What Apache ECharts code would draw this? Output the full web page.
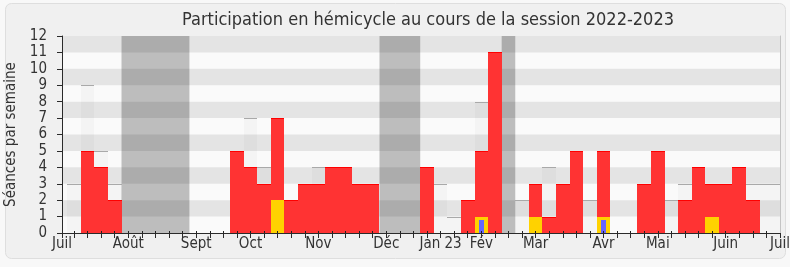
<!DOCTYPE html>
<html>
<head>
<meta charset="utf-8">
<script src="https://cdn.jsdelivr.net/npm/echarts@6/dist/echarts.min.js"></script>
<style>
  html, body { margin: 0; padding: 0; background: #f8f8f8; }
  #chart { width: 790px; height: 267px; }
</style>
</head>
<body>
<div id="chart"></div>
<script>
// Weekly attendance in the chamber, session 2022-2023 (week 0 = first week of July)
const monthLabels = ['Juil', 'Août', 'Sept', 'Oct', 'Nov', 'Déc', 'Jan 23', 'Fév', 'Mar', 'Avr', 'Mai', 'Juin', 'Juil'];
const monthWeeks  = [-0.884, 4, 9, 13, 18, 23, 27, 30, 34, 39, 43, 48, 52];
const yTicks = [0, 1, 2, 3, 4, 5, 6, 7, 8, 9, 10, 11, 12];

// sittings attended per week (red)
const presences = [
  0, 5, 4, 2, null, null, null, null, null, 0, 0, 0, 5, 4, 3, 7, 2, 3, 3, 4, 4, 3, 3,
  null, null, null, 4, 0, 0, 2, 5, 11, null, 0, 3, 1, 3, 5, 0, 5, 0, 0, 3, 5, 0, 2, 4, 3, 3, 4, 2, 0, 0
];
// sittings with a long speech (yellow)
const interventions = [
  0, 0, 0, 0, null, null, null, null, null, 0, 0, 0, 0, 0, 0, 2, 0, 0, 0, 0, 0, 0, 0,
  null, null, null, 0, 0, 0, 0, 1, 0, null, 0, 1, 0, 0, 0, 0, 1, 0, 0, 0, 0, 0, 0, 0, 1, 0, 0, 0, 0, 0
];
// oral questions (blue)
const questions = [
  0, 0, 0, 0, null, null, null, null, null, 0, 0, 0, 0, 0, 0, 0, 0, 0, 0, 0, 0, 0, 0,
  null, null, null, 0, 0, 0, 0, 0.8, 0, null, 0, 0, 0, 0, 0, 0, 0.8, 0, 0, 0, 0, 0, 0, 0, 0, 0, 0, 0, 0, 0
];
// median of all members (grey box with top line)
const medianes = [
  3, 9, 5, 3, null, null, null, null, null, 0, 0, 0, 4, 7, 4, 4, 2, 3, 4, 3, 3, 3, 3,
  null, null, null, 2, 3, 1, 2, 8, 4, null, 2, 2, 4, 2, 2, 2, 2, 0, 0, 2, 3, 2, 3, 3, 3, 3, 3, 3, 3, 3
];
// parliamentary recess, as [first week, last week]
const vacances = [[4, 8], [23, 25], [32, 32]];
// darker horizontal bands of the background
const bandes = [[1, 2], [3, 4], [5, 6], [7, 8], [9, 10], [11, 12]];

const FONT = "'DejaVu Sans Condensed', 'DejaVu Sans', sans-serif";
const weekTicks = [-0.884];
for (let i = 0; i <= 52; i++) weekTicks.push(i);

function toPairs(arr) {
  return arr.map((v, i) => [i, v == null ? 0 : v]);
}

function clipTo(params, r) {
  const cs = params.coordSys;
  return echarts.graphic.clipRectByRect(r, { x: cs.x, y: cs.y, width: cs.width, height: cs.height });
}

// one rectangle per week, from 0 up to the value, snapped to whole pixels
function weekBar(widthFrac, fill, topColor) {
  return function (params, api) {
    const k = api.value(0), v = api.value(1);
    if (!(v > 0)) return;
    const a = api.coord([k - widthFrac / 2, v]);
    const b = api.coord([k + widthFrac / 2, 0]);
    const x0 = Math.round(a[0]), x1 = Math.round(b[0]);
    const y0 = Math.round(a[1]), y1 = Math.round(b[1]);
    const shape = clipTo(params, { x: x0, y: y0, width: x1 - x0, height: y1 - y0 });
    if (!shape) return;
    const children = [{ type: 'rect', shape: shape, style: { fill: fill } }];
    if (topColor) {
      children.push({
        type: 'line',
        shape: { x1: shape.x, y1: shape.y + 0.5, x2: shape.x + shape.width, y2: shape.y + 0.5 },
        style: { stroke: topColor, lineWidth: 1 }
      });
    }
    return { type: 'group', children: children };
  };
}

const chart = echarts.init(document.getElementById('chart'), null, { renderer: 'canvas' });

chart.setOption({
  backgroundColor: '#f8f8f8',
  animation: false,
  textStyle: { fontFamily: FONT },
  title: {
    text: 'Participation en hémicycle au cours de la session 2022-2023',
    left: 423,
    textAlign: 'center',
    top: 6,
    textStyle: { fontFamily: FONT, fontSize: 18, fontWeight: 'normal', color: '#333' }
  },
  graphic: [{
    type: 'rect',
    z: -10,
    silent: true,
    shape: { x: 5.5, y: 3.5, width: 780, height: 255, r: 6 },
    style: { fill: '#f0f0f0', stroke: '#dedede', lineWidth: 1 }
  }],
  grid: { left: 62, right: 10, top: 36, bottom: 34, containLabel: false, outerBoundsMode: 'none' },
  xAxis: [{
    type: 'value',
    position: 'bottom',
    z: 20,
    min: -0.884,
    max: 52,
    splitLine: { show: false },
    axisLine: { show: true, onZero: false, lineStyle: { color: '#2a2a2a', width: 1 } },
    axisTick: { show: true, length: 5, customValues: weekTicks, lineStyle: { color: '#2a2a2a' } },
    axisLabel: {
      customValues: monthWeeks,
      formatter: v => {
        const i = monthWeeks.findIndex(m => Math.abs(m - v) < 1e-6);
        return i >= 0 ? monthLabels[i] : '';
      },
      margin: 4,
      fontSize: 15,
      color: '#333',
      fontFamily: FONT
    }
  }, {
    type: 'value',
    position: 'top',
    z: 20,
    min: -0.884,
    max: 52,
    splitLine: { show: false },
    axisLine: { show: false },
    axisTick: { show: true, length: 2, customValues: weekTicks.slice(1, 53), lineStyle: { color: '#222' } },
    axisLabel: { show: false }
  }],
  yAxis: [{
    type: 'value',
    position: 'left',
    z: 20,
    min: 0,
    max: 12,
    interval: 1,
    name: 'Séances par semaine',
    nameLocation: 'middle',
    nameGap: 42,
    nameTextStyle: { fontSize: 15, color: '#333', fontFamily: FONT },
    splitLine: { show: false },
    axisLine: { show: true, onZero: false, lineStyle: { color: '#2a2a2a', width: 1 } },
    axisTick: { show: true, length: 5, lineStyle: { color: '#2a2a2a' } },
    axisLabel: {
      margin: 15,
      fontSize: 15,
      color: '#333',
      fontFamily: FONT,
      formatter: v => (yTicks.indexOf(v) >= 0 ? String(v) : '')
    }
  }, {
    type: 'value',
    position: 'right',
    z: 20,
    min: 0,
    max: 12,
    interval: 1,
    splitLine: { show: false },
    axisLine: { show: true, onZero: false, lineStyle: { color: '#c4c4c4', width: 1 } },
    axisTick: { show: false },
    axisLabel: { show: false }
  }],
  series: [
    {
      // light plot background + recess bands
      type: 'line',
      data: [],
      z: 0,
      silent: true,
      markArea: {
        silent: true,
        itemStyle: { color: '#bdbdbd' },
        data: [[{ xAxis: -0.884, yAxis: 0, itemStyle: { color: '#fafafa' } }, { xAxis: 52, yAxis: 12 }]]
          .concat(vacances.map(v => [{ xAxis: v[0] - 0.5, yAxis: 0 }, { xAxis: v[1] + 0.5, yAxis: 12 }]))
      }
    },
    {
      name: 'Médiane',
      type: 'custom',
      z: 2,
      renderItem: weekBar(1, 'rgba(0,0,0,0.025)', '#a9a9a9'),
      data: toPairs(medianes)
    },
    {
      name: 'Présences',
      type: 'custom',
      z: 3,
      renderItem: weekBar(1, '#ff3333', '#ff0000'),
      data: toPairs(presences)
    },
    {
      name: 'Interventions',
      type: 'custom',
      z: 4,
      renderItem: weekBar(1, '#ffd200', null),
      data: toPairs(interventions)
    },
    {
      name: 'Questions',
      type: 'custom',
      z: 5,
      renderItem: weekBar(1 / 3, '#6666ff', null),
      data: toPairs(questions)
    },
    {
      // darker horizontal bands laid over everything
      type: 'line',
      data: [],
      z: 10,
      silent: true,
      markArea: {
        silent: true,
        itemStyle: { color: 'rgba(0,0,0,0.085)' },
        data: bandes.map(b => [{ xAxis: -0.884, yAxis: b[0] }, { xAxis: 52, yAxis: b[1] }])
      }
    }
  ]
});
</script>
</body>
</html>
